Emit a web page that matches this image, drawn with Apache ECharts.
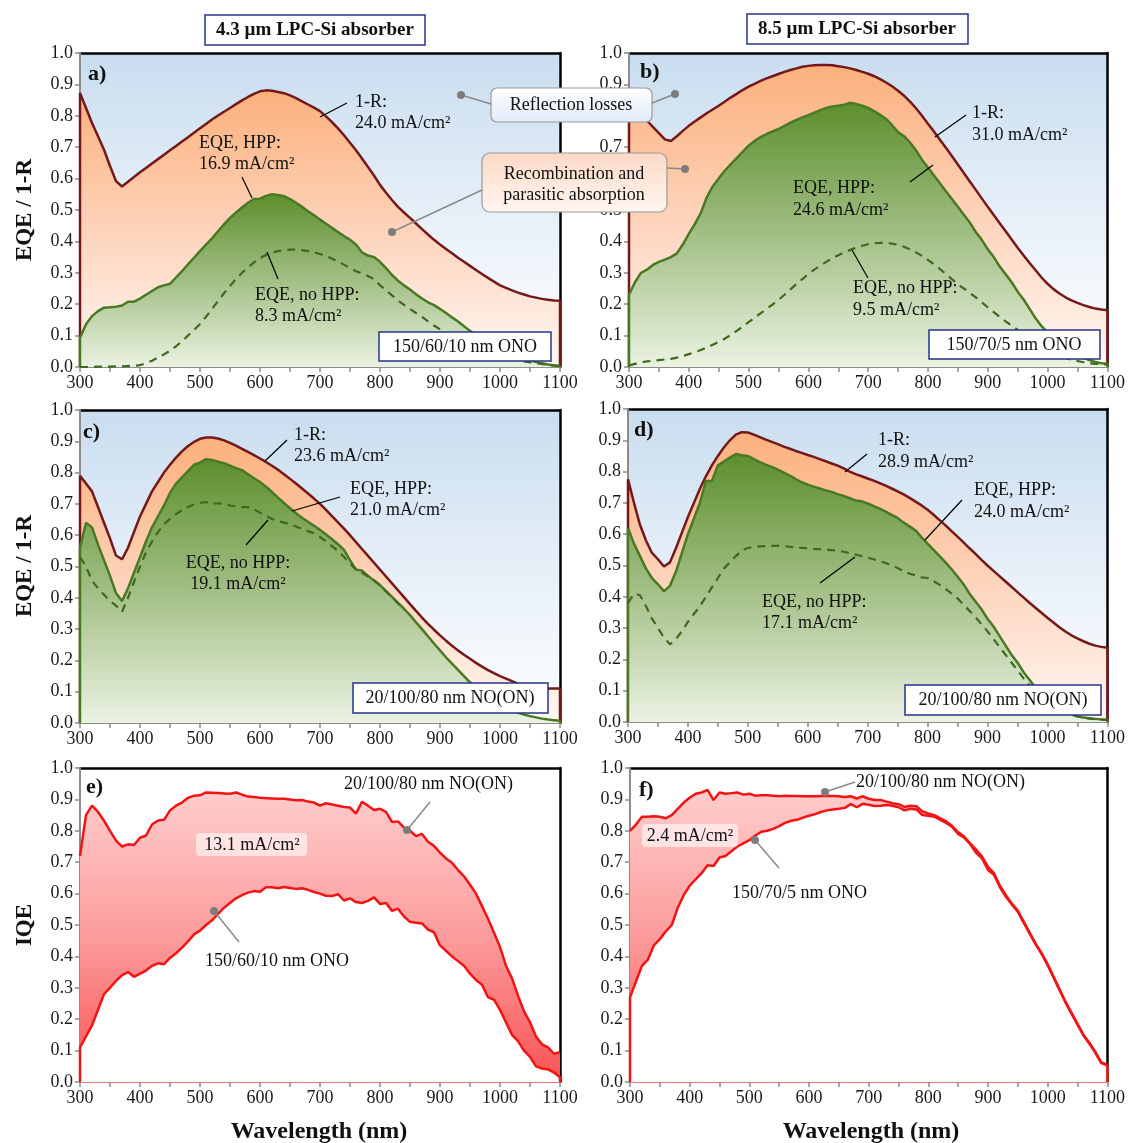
<!DOCTYPE html>
<html><head><meta charset="utf-8">
<script src="https://cdn.jsdelivr.net/npm/echarts@6/dist/echarts.min.js"></script>
<style>html,body{margin:0;padding:0;background:#fff}#c{width:1128px;height:1143px}</style>
</head><body><div id="c"></div>
<script>
// ---------- data ----------
const wavelength = [300,310,320,330,340,350,360,370,380,390,400,410,420,430,440,450,460,470,480,490,
500,510,520,530,540,550,560,570,580,590,600,610,620,630,640,650,660,670,680,690,
700,710,720,730,740,750,760,770,780,790,800,810,820,830,840,850,860,870,880,890,
900,910,920,930,940,950,960,970,980,990,1000,1010,1020,1030,1040,1050,1060,1070,1080,1090,1100];
const yTicks = [0,0.1,0.2,0.3,0.4,0.5,0.6,0.7,0.8,0.9,1.0];
const xTickLabels = [300,400,500,600,700,800,900,1000,1100];

// panel a) 4.3 um, 150/60/10 nm ONO
const a_oneMinusR = [.873,.825,.777,.735,.692,.640,.592,.575,.590,.605,
.620,.634,.648,.662,.676,.690,.704,.718,.732,.746,
.760,.774,.788,.801,.813,.825,.837,.849,.860,.870,
.878,.881,.880,.876,.872,.865,.856,.846,.836,.826,
.815,.798,.780,.760,.738,.714,.690,.664,.637,.610,
.580,.555,.532,.510,.492,.475,.457,.439,.422,.405,
.390,.376,.362,.348,.335,.322,.309,.296,.284,.272,
.260,.252,.244,.237,.231,.225,.221,.217,.214,.212,.211];
const a_eqeHPP = [.093,.136,.162,.178,.189,.190,.192,.196,.208,.208,
.218,.230,.242,.254,.260,.265,.285,.305,.327,.348,
.369,.390,.410,.432,.454,.475,.492,.508,.523,.535,
.536,.545,.550,.548,.544,.535,.523,.510,.496,.483,
.470,.456,.443,.430,.417,.405,.390,.365,.355,.350,
.335,.315,.293,.275,.260,.247,.232,.218,.206,.197,
.185,.172,.158,.145,.130,.115,.102,.090,.078,.067,
.057,.048,.040,.033,.027,.021,.016,.012,.008,.005,.003];
const a_eqeNoHPP = [.000,.000,.000,.001,.001,.001,.002,.002,.003,.004,
.006,.012,.020,.030,.040,.052,.066,.082,.100,.118,
.137,.160,.185,.210,.235,.258,.280,.300,.317,.333,
.347,.357,.364,.369,.372,.374,.374,.372,.369,.365,
.360,.353,.345,.336,.326,.315,.305,.298,.290,.280,
.260,.245,.228,.212,.198,.185,.172,.160,.145,.132,
.120,.108,.097,.087,.078,.070,.062,.054,.047,.041,
.035,.030,.026,.022,.018,.015,.012,.009,.007,.005,.003];

// panel b) 8.5 um, 150/70/5 nm ONO
const b_oneMinusR = [.850,.830,.805,.785,.765,.745,.725,.720,.735,.752,
.768,.782,.795,.808,.820,.832,.845,.858,.870,.882,
.893,.902,.911,.919,.926,.933,.940,.946,.951,.956,
.959,.961,.962,.962,.961,.958,.955,.951,.946,.940,
.934,.926,.917,.906,.894,.880,.864,.845,.824,.800,
.775,.750,.724,.698,.672,.645,.618,.591,.564,.537,
.510,.484,.458,.432,.406,.380,.355,.331,.308,.285,
.265,.248,.234,.222,.212,.204,.197,.191,.186,.183,.181];
const b_eqeHPP = [.230,.270,.300,.310,.325,.335,.342,.350,.362,.390,
.424,.455,.490,.540,.575,.600,.625,.645,.665,.685,
.705,.720,.732,.742,.750,.758,.768,.778,.787,.795,
.802,.810,.818,.825,.830,.832,.835,.842,.838,.832,
.825,.815,.803,.790,.770,.748,.735,.715,.690,.660,
.635,.610,.585,.560,.535,.510,.485,.460,.430,.405,
.375,.350,.320,.295,.270,.240,.215,.185,.155,.130,
.110,.090,.075,.060,.048,.038,.030,.022,.016,.012,.010];
const b_eqeNoHPP = [.005,.010,.015,.018,.020,.022,.024,.026,.030,.035,
.041,.047,.054,.062,.071,.080,.090,.102,.115,.128,
.143,.157,.171,.185,.199,.213,.230,.247,.264,.280,
.296,.310,.323,.335,.346,.356,.365,.373,.380,.386,
.391,.394,.395,.395,.393,.389,.383,.375,.365,.354,
.341,.327,.312,.296,.280,.263,.250,.236,.222,.206,
.190,.175,.160,.145,.132,.118,.104,.090,.077,.065,
.054,.044,.036,.029,.023,.019,.015,.012,.010,.009,.008];

// panel c) 4.3 um, 20/100/80 nm NO(ON)
const c_oneMinusR = [.790,.765,.740,.690,.640,.590,.535,.523,.560,.610,
.660,.700,.740,.770,.800,.825,.848,.868,.885,.898,
.908,.912,.912,.909,.903,.895,.886,.876,.866,.856,
.845,.834,.822,.809,.795,.780,.765,.749,.733,.717,
.700,.681,.661,.641,.621,.600,.578,.556,.534,.512,
.490,.468,.446,.424,.402,.380,.358,.337,.317,.298,
.280,.263,.247,.232,.218,.205,.192,.180,.169,.159,
.150,.142,.134,.126,.118,.112,.110,.110,.110,.110,.110];
const c_eqeHPP = [.560,.640,.625,.570,.520,.470,.415,.390,.430,.480,
.530,.580,.625,.660,.695,.735,.765,.785,.805,.825,
.832,.843,.840,.835,.830,.822,.814,.808,.795,.782,
.770,.755,.738,.720,.703,.686,.670,.656,.643,.630,
.617,.602,.587,.571,.553,.520,.490,.487,.470,.455,
.440,.422,.403,.384,.365,.345,.322,.300,.277,.254,
.232,.210,.190,.170,.150,.130,.113,.097,.083,.070,
.058,.048,.040,.033,.027,.022,.018,.014,.011,.009,.007];
const c_eqeNoHPP = [.530,.500,.455,.430,.410,.390,.375,.355,.400,.450,
.500,.545,.580,.610,.635,.652,.667,.680,.690,.698,
.703,.706,.700,.702,.700,.695,.692,.690,.690,.683,
.672,.662,.652,.645,.640,.635,.628,.620,.613,.606,
.595,.580,.565,.550,.530,.510,.490,.480,.468,.456,
.440,.420,.402,.383,.362];

// panel d) 8.5 um, 20/100/80 nm NO(ON)
const d_oneMinusR = [.775,.700,.630,.580,.540,.520,.497,.510,.555,.605,
.655,.700,.745,.785,.820,.850,.877,.900,.918,.926,
.925,.918,.910,.902,.895,.888,.880,.873,.866,.860,
.853,.847,.840,.833,.826,.819,.810,.800,.792,.785,
.778,.771,.763,.755,.746,.737,.727,.716,.704,.692,
.678,.662,.645,.628,.610,.592,.574,.555,.537,.518,
.500,.483,.466,.449,.432,.415,.398,.381,.365,.349,
.333,.318,.303,.289,.277,.267,.258,.250,.244,.240,.237];
const d_eqeHPP = [.620,.570,.530,.490,.460,.440,.418,.435,.480,.540,
.600,.650,.700,.770,.770,.820,.832,.845,.856,.852,
.850,.840,.830,.822,.815,.806,.797,.787,.776,.766,
.758,.752,.746,.740,.735,.728,.722,.715,.708,.705,
.698,.690,.682,.672,.662,.652,.637,.625,.612,.590,
.570,.550,.530,.510,.488,.465,.440,.410,.385,.360,
.330,.305,.275,.245,.215,.190,.160,.135,.110,.090,
.075,.060,.045,.035,.025,.018,.014,.012,.010,.008,.007];
const d_eqeNoHPP = [.380,.410,.405,.370,.330,.300,.270,.248,.265,.290,
.320,.345,.370,.400,.430,.460,.490,.510,.530,.548,
.556,.559,.561,.562,.563,.563,.562,.560,.558,.556,
.555,.553,.552,.550,.549,.547,.544,.540,.535,.530,
.525,.520,.514,.508,.500,.492,.482,.474,.468,.462,
.460,.450,.438,.425,.410,.395,.375,.355,.335,.312,
.290,.265,.240,.215,.190,.165,.140,.118,.097,.078,
.062,.049,.038,.030,.023,.018,.014,.011,.009,.008,.007];

// panel e) IQE 4.3 um
const e_iqeNOON = [.720,.850,.880,.860,.832,.800,.769,.750,.757,.755,
.778,.785,.820,.833,.835,.865,.880,.890,.905,.912,
.913,.922,.921,.920,.919,.918,.922,.915,.909,.908,
.905,.904,.903,.902,.902,.900,.897,.898,.893,.890,
.880,.888,.884,.880,.876,.874,.855,.892,.880,.866,
.870,.860,.828,.830,.810,.800,.783,.790,.765,.752,
.730,.712,.698,.675,.655,.628,.600,.560,.520,.475,
.430,.370,.330,.275,.225,.190,.145,.120,.110,.090,.095];
const e_iqeONO = [.110,.145,.180,.230,.280,.300,.322,.340,.350,.335,
.345,.355,.370,.378,.375,.395,.410,.428,.448,.470,
.482,.500,.515,.535,.555,.570,.585,.595,.603,.608,
.606,.620,.620,.617,.621,.618,.615,.617,.612,.605,
.600,.593,.592,.598,.578,.585,.573,.570,.577,.588,
.567,.570,.545,.552,.527,.510,.507,.505,.485,.477,
.435,.418,.400,.385,.370,.345,.325,.310,.270,.262,
.230,.190,.150,.130,.100,.080,.050,.043,.040,.030,.015];

// panel f) IQE 8.5 um
const f_iqeNOON = [.800,.820,.845,.845,.846,.845,.840,.850,.870,.890,
.905,.918,.922,.930,.898,.922,.918,.920,.922,.915,
.918,.912,.913,.913,.912,.910,.912,.911,.911,.910,
.910,.910,.911,.912,.911,.910,.908,.910,.903,.910,
.902,.898,.898,.893,.888,.885,.876,.880,.878,.862,
.855,.850,.840,.830,.815,.795,.782,.760,.740,.718,
.685,.665,.625,.595,.568,.545,.510,.475,.440,.410,
.375,.335,.295,.255,.220,.185,.150,.125,.095,.062,.055];
const f_iqeONO = [.270,.320,.370,.390,.435,.455,.480,.500,.555,.595,
.625,.645,.665,.690,.688,.715,.720,.735,.750,.760,
.770,.785,.797,.800,.806,.815,.825,.832,.835,.842,
.848,.853,.860,.865,.868,.870,.873,.885,.875,.886,
.883,.879,.880,.882,.880,.875,.865,.870,.868,.850,
.848,.845,.835,.825,.812,.790,.778,.758,.730,.712,
.675,.660,.620,.590,.565,.542,.507,.472,.438,.407,
.372,.332,.292,.253,.218,.183,.148,.122,.093,.060,.053];

// ---------- helpers ----------
const SERIF = '"Liberation Serif","Times New Roman",serif';
function pairs(vals){ return wavelength.slice(0, vals.length).map((w,i)=>[w, vals[i]]); }
function edged(vals){ const p = pairs(vals); return [[wavelength[0],0]].concat(p, [[wavelength[wavelength.length-1],0]]); }
function vgrad(stops){ return {type:'linear',x:0,y:0,x2:0,y2:1,colorStops:stops.map((c,i)=>({offset:i/(stops.length-1),color:c}))}; }

const grids = [
  {left:80, top:53, width:480, height:314},
  {left:629, top:53, width:480, height:314},
  {left:80, top:410, width:480, height:313},
  {left:628, top:409, width:480, height:313},
  {left:80, top:768, width:480, height:314},
  {left:630, top:768, width:480, height:314}
];
const skyBg = vgrad(['#c9ddef','#e6eff8','#ffffff']);
grids.forEach((g,i)=>{ g.show = true; g.borderWidth = 0; g.backgroundColor = i<4 ? skyBg : '#ffffff'; });

const xAxes = [], yAxes = [];
grids.forEach((g,i)=>{
  const red = i>=4;
  xAxes.push({gridIndex:i, type:'value', min:300, max:1100, interval:50,
    axisLine:{onZero:false, lineStyle:{color: red ? '#e77' : '#8c8c8c', width:2}},
    axisTick:{length:5, lineStyle:{color:'#8c8c8c', width:1.5}},
    axisLabel:{margin:7, color:'#1a1a1a', fontFamily:SERIF, fontSize:18,
      formatter:v=> xTickLabels.indexOf(v)>=0 ? String(v) : ''},
    splitLine:{show:false}, z:1});
  xAxes.push({gridIndex:i, type:'value', position:'top', min:300, max:1100,
    axisLine:{onZero:false, lineStyle:{color:'#000', width:2.5}}, axisTick:{show:false},
    axisLabel:{show:false}, splitLine:{show:false}});
  yAxes.push({gridIndex:i, type:'value', min:yTicks[0], max:yTicks[yTicks.length-1], interval:0.1,
    axisLine:{onZero:false, lineStyle:{color:'#8c8c8c', width:2}},
    axisTick:{length:5, lineStyle:{color:'#8c8c8c', width:1.5}},
    axisLabel:{margin:7, color:'#1a1a1a', fontFamily:SERIF, fontSize:18, formatter:v=>v.toFixed(1)},
    splitLine:{show:false}, z:1});
  yAxes.push({gridIndex:i, type:'value', position:'right', min:0, max:1,
    axisLine:{onZero:false, lineStyle:{color:'#000', width:2.5}}, axisTick:{show:false},
    axisLabel:{show:false}, splitLine:{show:false}});
});

const base = {type:'line', symbol:'none', showSymbol:false, silent:true, animation:false};
const orangeFill = vgrad(['#fbb07c','#fdd3ba','#fff8f4']);
const greenFill = vgrad(['#5d8f2d','#a2bf85','#ebf2e2']);
const redFill = vgrad(['#ffcccc','#fc9c9c','#f85252']);
const series = [];
const eqePanels = [
  [a_oneMinusR, a_eqeHPP, a_eqeNoHPP],
  [b_oneMinusR, b_eqeHPP, b_eqeNoHPP],
  [c_oneMinusR, c_eqeHPP, c_eqeNoHPP],
  [d_oneMinusR, d_eqeHPP, d_eqeNoHPP]
];
eqePanels.forEach((p,i)=>{
  const ax = {xAxisIndex:2*i, yAxisIndex:2*i};
  series.push(Object.assign({}, base, ax, {name:'1-R', data:edged(p[0]), z:2,
    lineStyle:{color:'#74191b', width:2.5}, areaStyle:{color:orangeFill, opacity:1}}));
  series.push(Object.assign({}, base, ax, {name:'EQE, HPP', data:edged(p[1]), z:3,
    lineStyle:{color:'#4a7924', width:2.5}, areaStyle:{color:greenFill, opacity:1}}));
  series.push(Object.assign({}, base, ax, {name:'EQE, no HPP', data:pairs(p[2]), z:4,
    lineStyle:{color:'#3e6a1f', width:2.2, type:[8,6]}}));
});
const iqePanels = [[e_iqeNOON, e_iqeONO],[f_iqeNOON, f_iqeONO]];
iqePanels.forEach((p,k)=>{
  const i = 4+k, ax = {xAxisIndex:2*i, yAxisIndex:2*i};
  series.push(Object.assign({}, base, ax, {name:'NO(ON) fill', data:pairs(p[0]), z:2,
    lineStyle:{width:0}, areaStyle:{color:redFill, opacity:1}}));
  series.push(Object.assign({}, base, ax, {name:'ONO mask', data:pairs(p[1]), z:3,
    lineStyle:{width:0}, areaStyle:{color:'#ffffff', opacity:1}}));
  series.push(Object.assign({}, base, ax, {name:'20/100/80 nm NO(ON)', data:pairs(p[0]), z:4,
    lineStyle:{color:'#f21414', width:2.5}}));
  series.push(Object.assign({}, base, ax, {name:'ONO', data:edged(p[1]), z:4,
    lineStyle:{color:'#f21414', width:2.5}}));
});

// ---------- annotations ----------
const G = [];
function T(x,y,text,o){ o=o||{}; const sz=o.size||18;
  G.push({type:'text', x:x, y:y, rotation:o.rot||0, z:100, silent:true,
    style:{text:text, font:(o.bold?'bold ':'')+sz+'px '+SERIF, fill:o.color||'#111',
      textAlign:o.align||'left', textVerticalAlign:'middle', align:o.align||'left', verticalAlign:'middle'}}); }
function L(x1,y1,x2,y2,c,w){ G.push({type:'line', z:99, silent:true, shape:{x1:x1,y1:y1,x2:x2,y2:y2}, style:{stroke:c||'#000', lineWidth:w||1.2}}); }
function D(cx,cy){ G.push({type:'circle', z:100, silent:true, shape:{cx:cx,cy:cy,r:4}, style:{fill:'#7d7d7d'}}); }
function R(x,y,w,h,fill,stroke,lw,r){ G.push({type:'rect', z:98, silent:true, shape:{x:x,y:y,width:w,height:h,r:r||0}, style:{fill:fill, stroke:stroke, lineWidth:lw||1}}); }

// column titles
R(205,15,220,30,'#fff','#27358c',1.5); T(315,30,'4.3 µm LPC-Si absorber',{bold:true,size:19,align:'center'});
R(747,14,221,30,'#fff','#27358c',1.5); T(857,29,'8.5 µm LPC-Si absorber',{bold:true,size:19,align:'center'});
// axis titles
T(25,210,'EQE / 1-R',{bold:true,size:23,align:'center',rot:Math.PI/2});
T(25,566,'EQE / 1-R',{bold:true,size:23,align:'center',rot:Math.PI/2});
T(25,925,'IQE',{bold:true,size:23,align:'center',rot:Math.PI/2});
T(319,1132,'Wavelength (nm)',{bold:true,size:24,align:'center'});
T(871,1132,'Wavelength (nm)',{bold:true,size:24,align:'center'});
// panel letters
T(88,74,'a)',{bold:true,size:22}); T(640,72,'b)',{bold:true,size:22});
T(83,432,'c)',{bold:true,size:22}); T(634,430,'d)',{bold:true,size:22});
T(86,787,'e)',{bold:true,size:22}); T(639,790,'f)',{bold:true,size:22});

// panel a
T(355,102,'1-R:'); T(355,123,'24.0 mA/cm²'); L(320,117,347,103);
T(199,143,'EQE, HPP:'); T(199,164,'16.9 mA/cm²'); L(242,177,252,198);
T(255,295,'EQE, no HPP:'); T(255,316,'8.3 mA/cm²'); L(267,252,278,279);
R(379,332,172,29,'#fff','#27358c',1.5); T(465,347,'150/60/10 nm ONO',{align:'center'});
// shared callouts
L(461,95,491,104,'#8a8a8a',1.5); L(652,103,675,94,'#8a8a8a',1.5); D(461,95); D(675,94);
R(491,88,161,34,vgrad(['#ffffff','#dfeaf6']),'#9a9a9a',1.2,6); T(571,105,'Reflection losses',{align:'center'});
L(482,190,392,232,'#8a8a8a',1.5); L(667,168,685,169,'#8a8a8a',1.5); D(392,232); D(685,169);
R(482,153,185,59,vgrad(['#fcd9c4','#fff6f1']),'#9a9a9a',1.2,8);
T(574,174,'Recombination and',{align:'center'}); T(574,195,'parasitic absorption',{align:'center'});
// panel b
T(972,113,'1-R:'); T(972,135,'31.0 mA/cm²'); L(935,137,966,115);
T(793,188,'EQE, HPP:'); T(793,210,'24.6 mA/cm²'); L(910,182,933,165);
T(853,288,'EQE, no HPP:'); T(853,310,'9.5 mA/cm²'); L(852,250,868,278);
R(929,330,171,29,'#fff','#27358c',1.5); T(1014,345,'150/70/5 nm ONO',{align:'center'});
// panel c
T(294,435,'1-R:'); T(294,456,'23.6 mA/cm²'); L(264,462,287,440);
T(350,489,'EQE, HPP:'); T(350,510,'21.0 mA/cm²'); L(292,511,340,497);
T(238,563,'EQE, no HPP:',{align:'center'}); T(238,584,'19.1 mA/cm²',{align:'center'}); L(246,545,268,520);
R(353,683,195,30,'#fff','#27358c',1.5); T(450,698,'20/100/80 nm NO(ON)',{align:'center'});
// panel d
T(878,440,'1-R:'); T(878,462,'28.9 mA/cm²'); L(845,472,867,454);
T(974,490,'EQE, HPP:'); T(974,512,'24.0 mA/cm²'); L(925,540,962,500);
T(762,602,'EQE, no HPP:'); T(762,623,'17.1 mA/cm²'); L(820,583,855,557);
R(905,685,196,30,'#fff','#27358c',1.5); T(1003,700,'20/100/80 nm NO(ON)',{align:'center'});
// panel e
T(344,784,'20/100/80 nm NO(ON)'); L(407,830,430,802,'#8a8a8a',1.5); D(407,830);
R(196,833,111,23,'rgba(255,255,255,0.6)',null,0,4); T(252,845,'13.1 mA/cm²',{align:'center'});
L(214,911,239,942,'#8a8a8a',1.5); D(214,911); T(205,961,'150/60/10 nm ONO');
// panel f
T(856,782,'20/100/80 nm NO(ON)'); L(825,792,855,782,'#8a8a8a',1.5); D(825,792);
R(642,824,96,23,'rgba(255,255,255,0.6)',null,0,4); T(690,836,'2.4 mA/cm²',{align:'center'});
L(755,840,779,868,'#8a8a8a',1.5); D(755,840); T(732,893,'150/70/5 nm ONO');

const chart = echarts.init(document.getElementById('c'));
chart.setOption({animation:false, backgroundColor:'#ffffff', grid:grids, xAxis:xAxes, yAxis:yAxes, series:series, graphic:G});
</script></body></html>
